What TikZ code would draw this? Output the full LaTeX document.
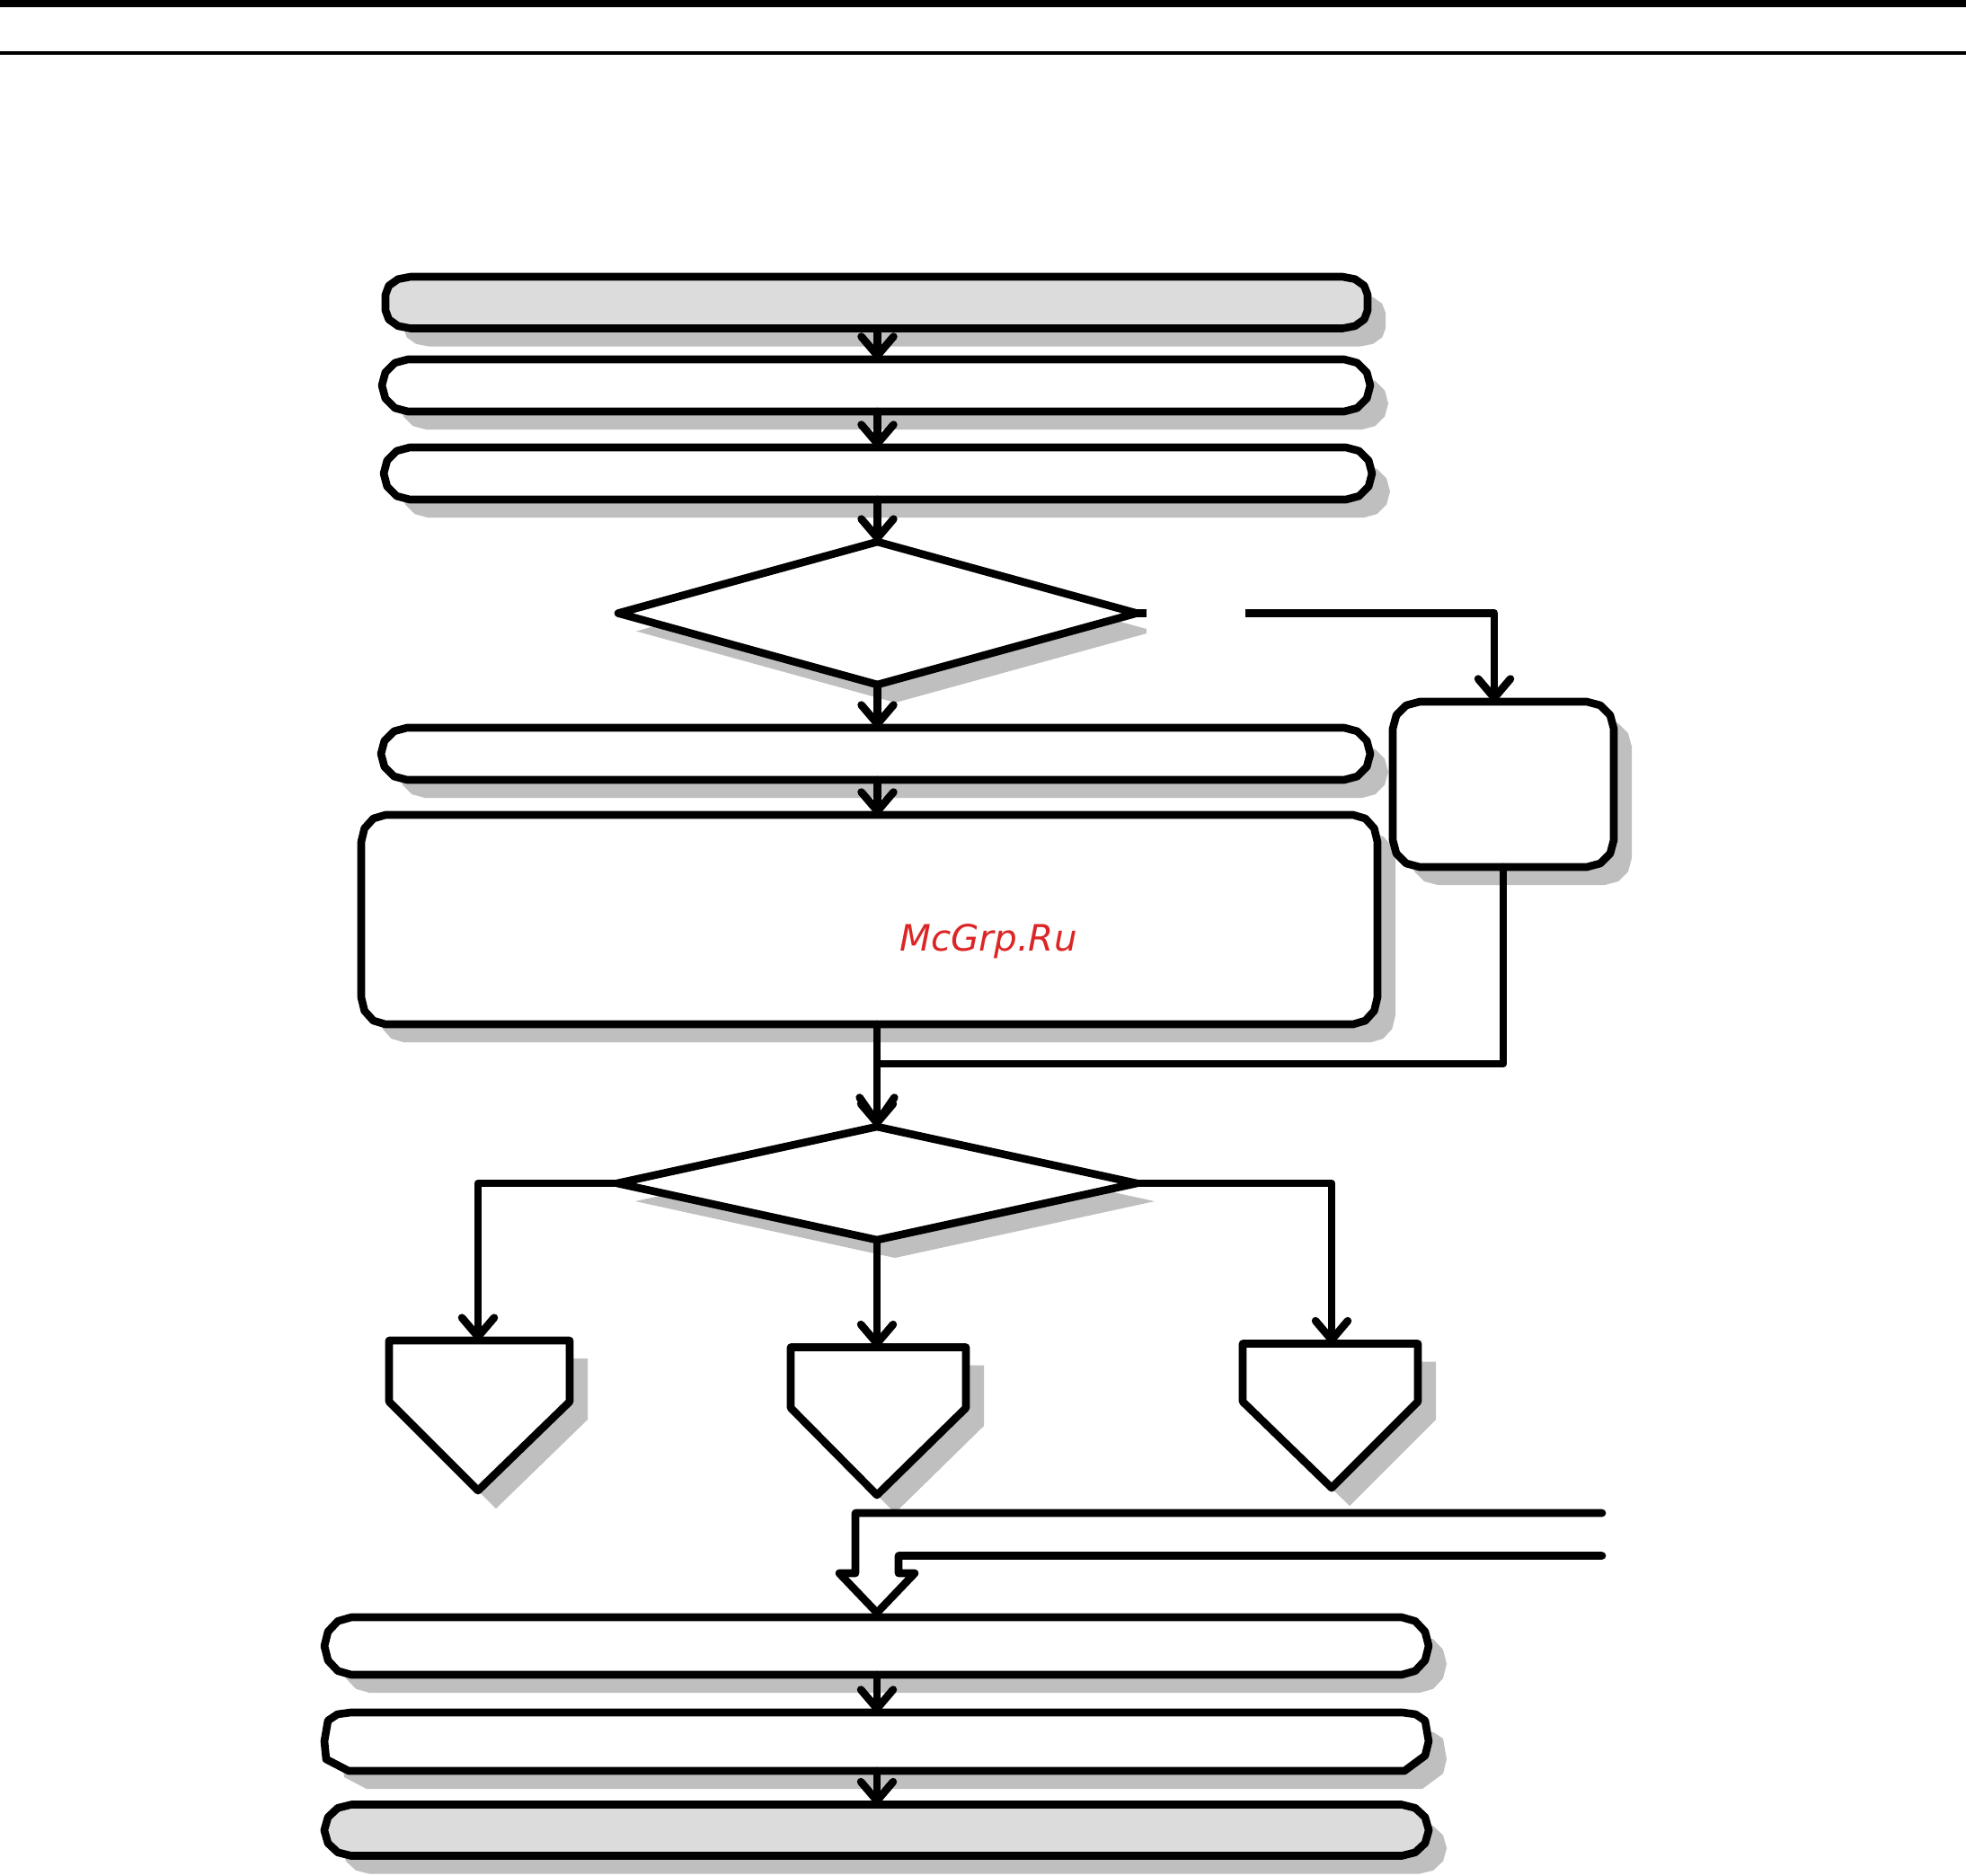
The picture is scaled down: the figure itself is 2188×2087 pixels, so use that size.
\documentclass[tikz,border=0pt]{standalone}
\usepackage{fontspec}
\usetikzlibrary{shapes.geometric,shadows,arrows.meta,calc}
\newfontfamily\wmfont{DejaVu Sans}
\definecolor{shadowc}{HTML}{BFBFBF}
\definecolor{lightc}{HTML}{DCDCDC}
\definecolor{wmred}{HTML}{DC2626}
\tikzset{
  stroke/.style={draw=black,line width=2.45pt,line cap=round,line join=round},
  castshadow/.style={general shadow={fill=shadowc,shadow xshift=0.2cm,shadow yshift=-0.2cm}},
  anchorbox/.style={rectangle,inner sep=0pt,outer sep=0pt},
  decision/.style={stroke,diamond,inner sep=0pt,outer sep=0pt,fill=white,castshadow},
  link/.style={stroke},
  arrowlink/.style={stroke,-{Straight Barb[length=6pt,width=10.2pt,line cap=round,round]}},
  heavyarrow/.style={stroke,-{Straight Barb[length=8pt,width=11pt,line cap=round,round]}},
}
% left, top, right, bottom, corner rx, corner ry
\newcommand{\facetpath}[6]{(#1+#5,#2) -- (#3-#5,#2)
  -- ({#3-.5*#5},{#2+.134*#6}) -- ({#3-.134*#5},{#2+.5*#6}) -- (#3,#2+#6)
  -- (#3,#4-#6) -- ({#3-.134*#5},{#4-.5*#6}) -- ({#3-.5*#5},{#4-.134*#6}) -- (#3-#5,#4)
  -- (#1+#5,#4) -- ({#1+.5*#5},{#4-.134*#6}) -- ({#1+.134*#5},{#4-.5*#6}) -- (#1,#4-#6)
  -- (#1,#2+#6) -- ({#1+.134*#5},{#2+.5*#6}) -- ({#1+.5*#5},{#2+.134*#6}) -- cycle}
\newcommand{\flowboxat}[8]{%
  \fill[shadowc,shift={(20,20)}] \facetpath{#2}{#3}{#4}{#5}{#6}{#7};
  \draw[stroke,fill=#8] \facetpath{#2}{#3}{#4}{#5}{#6}{#7};
  \node[anchorbox,minimum width={(#4-#2)*0.01cm},minimum height={(#5-#3)*0.01cm}] (#1) at ({(#2+#4)/2},{(#3+#5)/2}) {};}
\newcommand{\decisionat}[5]{\node[decision,minimum width={(#3-#2)*0.01cm},minimum height={(#5-#4)*0.01cm}] (#1) at ({(#2+#3)/2},{(#4+#5)/2}) {};}
% name, left, right, top, shoulder, tip x, tip y
\newcommand{\outcome}[7]{%
  \fill[shadowc,shift={(20,20)}] (#2,#4) -- (#3,#4) -- (#3,#5) -- (#6,#7) -- (#2,#5) -- cycle;
  \draw[stroke,fill=white] (#2,#4) -- (#3,#4) -- (#3,#5) -- (#6,#7) -- (#2,#5) -- cycle;
  \coordinate (#1) at (#6,#4);}
\newcommand{\chamferpath}{(390,1906) -- (1561,1906) -- (1575.5,1908) -- (1586,1915) -- (1590,1938) -- (1586,1954) -- (1563,1971)
  -- (388,1971) -- (363,1958) -- (361,1938) -- (365,1915) -- (375.5,1908) -- cycle}
\begin{document}
\begin{tikzpicture}[x=0.01cm,y=-0.01cm]
\useasboundingbox (0,0) rectangle (2188,2087);
\fill[black] (0,0) rectangle (2188,8);
\fill[black] (0,57) rectangle (2188,61);

\flowboxat{b1}{429}{308}{1522}{365.5}{28}{20}{lightc}
\flowboxat{b2}{425}{400}{1525}{458}{29}{29}{white}
\flowboxat{b3}{427}{498}{1527}{556}{29}{29}{white}
\decisionat{d1}{688}{1265}{603}{762}
\flowboxat{b4}{424}{810}{1525}{868}{29}{29}{white}
\flowboxat{b5}{402}{907}{1533}{1140}{27}{30}{white}
\flowboxat{r1}{1550}{781}{1796}{965}{30}{30}{white}
\node[fill=white,inner sep=0pt,outer sep=0pt,minimum width=1.10cm,minimum height=0.6cm] (gap) at (1331,682.5) {};
\decisionat{d2}{687}{1265}{1254}{1380}
\outcome{p1}{433}{634}{1492}{1560}{532}{1659}
\outcome{p2}{880}{1075}{1499.5}{1567}{976}{1664}
\outcome{p3}{1383}{1578}{1495.5}{1560}{1482}{1656}
\flowboxat{b6}{361}{1800}{1590}{1864}{30}{32}{white}
\fill[shadowc,shift={(20,20)}] \chamferpath;
\draw[stroke,fill=white] \chamferpath;
\node[anchorbox,minimum width=12.29cm,minimum height=0.65cm] (b7) at (975.5,1938.5) {};
\flowboxat{b8}{361}{2008.5}{1590}{2065.5}{30}{28}{lightc}

\coordinate (r1in) at (1663,781);
\coordinate (merge) at (976,1184);
\coordinate (in1) at (1783,1684);
\coordinate (in2) at (1783,1731.5);
\coordinate (hollowtip) at (976,1795);

\draw[arrowlink] (b1.south -| d1.north) -- (b2.north -| d1.north);
\draw[arrowlink] (b2.south -| d1.north) -- (b3.north -| d1.north);
\draw[arrowlink] (b3.south -| d1.north) -- (d1.north);
\draw[arrowlink] (d1.south) -- (b4.north -| d1.south);
\draw[arrowlink] (b4.south -| d1.south) -- (b5.north -| d1.south);
\draw[arrowlink] (b5.south -| d2.north) -- (d2.north);
\draw[link,line cap=butt] (d1.east) -- (gap.west);
\draw[arrowlink,line cap=butt] (gap.east) -| (r1in);
\draw[heavyarrow] (r1.south) |- (merge) -- (d2.north);
\draw[arrowlink] (d2.west) -| (p1);
\draw[arrowlink] (d2.south) -- (p2);
\draw[arrowlink] (d2.east) -| (p3);
\draw[stroke] (in1) -- (952,1684) -- (952,1751) -- (934,1751) -- (hollowtip) -- (1018,1751) -- (1000,1751) -- (1000,1731.5) -- (in2);
\draw[arrowlink] (b6.south -| d2.south) -- (b7.north -| d2.south);
\draw[arrowlink] (b7.south -| d2.south) -- (b8.north -| d2.south);

\node[text=wmred,font=\wmfont\itshape\fontsize{11.5pt}{13pt}\selectfont,inner sep=0pt,anchor=base] (wm) at (1100,1058) {McGrp.Ru};
\end{tikzpicture}
\end{document}
